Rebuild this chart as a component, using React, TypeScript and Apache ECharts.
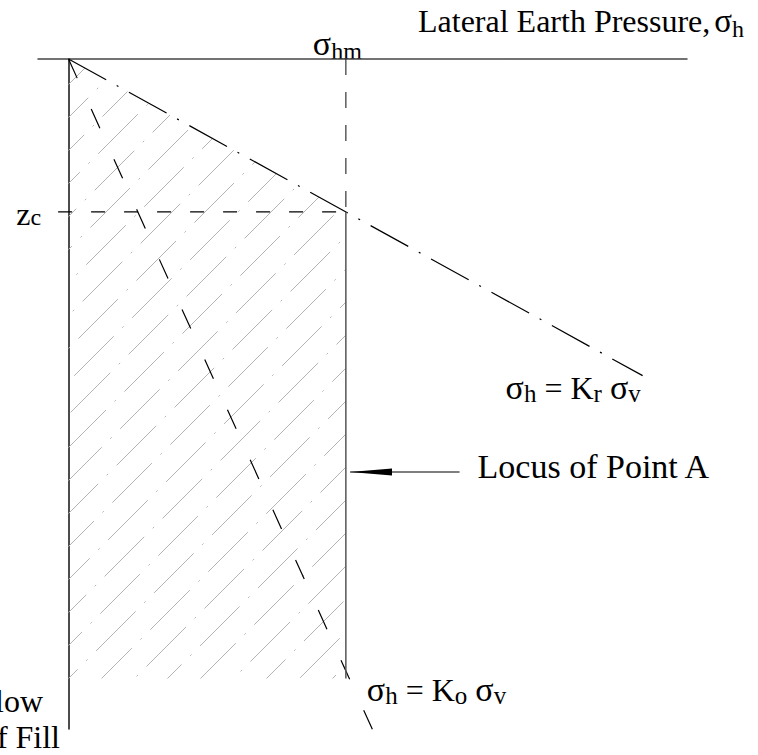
import { useEffect, useRef } from "react";
import * as echarts from "echarts";

const FONT = "'Liberation Serif', 'Times New Roman', serif";

// Lateral pressure σh (x) against depth z (y), in the diagram's own units
const pressureRange = [-11, 223];
const depthRange = [0, 438];
const krLine = [[0, 0], [207, 207]];          // σh = Kr σv
const koLine = [[0, 0], [110.5, 442]];        // σh = Ko σv
const locusUpper = [[100, 0], [100, 100]];    // σhm projected to the surface
const locusLower = [[100, 100], [100, 405]];  // locus of point A below zc
const zcLine = [[-7, 100], [100, 100]];       // critical depth zc
const pressureZone = [[0, 0], [100, 100], [100, 405], [0, 405]];
const arrowLine = [[141, 270], [101.5, 270]];

const HATCH_STEP = 33;
const HATCH_PHASE = 21;
const HATCH_DASH = [56, 12, 2, 12];

function lineSeries(data: number[][], color: string, width: number, type: any, dashOffset = 0, z = 3) {
  return {
    type: "line",
    data,
    symbol: "none",
    silent: true,
    clip: false,
    z,
    lineStyle: { color, width, type, dashOffset },
    emphasis: { disabled: true },
  };
}

export default function App() {
  const ref = useRef<HTMLDivElement>(null);

  useEffect(() => {
    const chart = echarts.init(ref.current!, null, { renderer: "svg" });

    // Diagonal dash-dot hatching of the pressure zone, clipped to its outline
    const hatchSeries = {
      type: "custom",
      coordinateSystem: "cartesian2d",
      data: [pressureZone[0]],
      silent: true,
      clip: false,
      z: 1,
      renderItem: (_params: any, api: any) => {
        const pts = pressureZone.map((p) => api.coord(p));
        const sums = pts.map((p: number[]) => p[0] + p[1]);
        const cMin = Math.min(...sums);
        const cMax = Math.max(...sums);
        const period = HATCH_DASH.reduce((a, b) => a + b, 0);
        const children: any[] = [];
        const k0 = Math.ceil((cMin - HATCH_PHASE) / HATCH_STEP);
        for (let k = k0; HATCH_PHASE + k * HATCH_STEP < cMax; k++) {
          const c = HATCH_PHASE + k * HATCH_STEP;
          const hits: number[][] = [];
          for (let i = 0; i < pts.length; i++) {
            const a = pts[i];
            const b = pts[(i + 1) % pts.length];
            const fa = a[0] + a[1] - c;
            const fb = b[0] + b[1] - c;
            if ((fa <= 0 && fb > 0) || (fa > 0 && fb <= 0)) {
              const t = fa / (fa - fb);
              hits.push([a[0] + t * (b[0] - a[0]), a[1] + t * (b[1] - a[1])]);
            }
          }
          if (hits.length < 2) continue;
          hits.sort((p, q) => p[0] - q[0]);
          const s = hits[0];
          const e = hits[hits.length - 1];
          const along = (s[0] - s[1]) / Math.SQRT2 + k * 29;
          children.push({
            type: "line",
            shape: { x1: s[0], y1: s[1], x2: e[0], y2: e[1] },
            style: {
              stroke: "#b4b4b4",
              lineWidth: 1,
              lineDash: HATCH_DASH,
              lineDashOffset: ((along % period) + period) % period,
            },
            silent: true,
          });
        }
        return { type: "group", children };
      },
    };

    // Filled arrowhead pointing at the locus line
    const arrowHeadSeries = {
      type: "custom",
      coordinateSystem: "cartesian2d",
      data: [arrowLine[1]],
      silent: true,
      clip: false,
      z: 5,
      renderItem: (_params: any, api: any) => {
        const tail = api.coord(arrowLine[0]);
        const tip = api.coord(arrowLine[1]);
        const dx = tip[0] - tail[0];
        const dy = tip[1] - tail[1];
        const len = Math.hypot(dx, dy) || 1;
        const ux = dx / len;
        const uy = dy / len;
        const headLen = 42;
        const half = 3.5;
        const bx = tip[0] - ux * headLen;
        const by = tip[1] - uy * headLen;
        return {
          type: "polygon",
          shape: {
            points: [
              [tip[0], tip[1]],
              [bx - uy * half, by + ux * half],
              [bx + uy * half, by - ux * half],
            ],
          },
          style: { fill: "#000" },
        };
      },
    };

    chart.setOption({
      animation: false,
      grid: { left: 38, right: 71, top: 59, bottom: 26, containLabel: false, outerBoundsMode: "none" },
      xAxis: {
        type: "value",
        position: "top",
        min: pressureRange[0],
        max: pressureRange[1],
        axisLine: { show: true, onZero: true, lineStyle: { color: "#444", width: 1.5 } },
        axisTick: { show: false },
        axisLabel: { show: false },
        splitLine: { show: false },
      },
      yAxis: {
        type: "value",
        inverse: true,
        min: depthRange[0],
        max: depthRange[1],
        axisLine: { show: true, onZero: true, lineStyle: { color: "#111", width: 1.5 } },
        axisTick: { show: false },
        axisLabel: { show: false },
        splitLine: { show: false },
      },
      series: [
        hatchSeries,
        lineSeries(krLine, "#000", 1.2, [43, 12, 2, 12]),
        lineSeries(koLine, "#000", 1.2, [21, 34]),
        lineSeries(locusUpper, "#333", 1.2, [16, 17]),
        lineSeries(locusLower, "#555", 1.5, "solid"),
        lineSeries(zcLine, "#000", 1.2, [14, 19], 24),
        lineSeries(arrowLine, "#555", 1.5, "solid"),
        arrowHeadSeries,
      ],
    });

    const px = (p: number[]) => chart.convertToPixel({ gridIndex: 0 }, p) as number[];
    const rich = {
      m: { fontSize: 32, fontFamily: FONT, fill: "#000" },
      L: { fontSize: 34, fontFamily: FONT, fill: "#000" },
      g: { fontSize: 34, fontFamily: FONT, fill: "#000" },
      G: { fontSize: 33, fontFamily: FONT, fill: "#000", padding: [0, 0, 0, 4] },
      s: { fontSize: 25, fontFamily: FONT, fill: "#000", padding: [12, 0, 0, 0] },
      t: { fontSize: 24, fontFamily: FONT, fill: "#000", padding: [16, 0, 0, 0] },
      c: { fontSize: 24, fontFamily: FONT, fill: "#000", padding: [6, 0, 0, 0] },
    };
    const label = (x: number, y: number, text: string, align = "left") => ({
      type: "text",
      x,
      y,
      silent: true,
      style: {
        text,
        rich,
        fontSize: 32,
        fontFamily: FONT,
        fill: "#000",
        textAlign: align,
        textVerticalAlign: "middle",
      },
    });

    const hm = px(locusUpper[0]);
    const zc = px(zcLine[0]);
    const kr = px(krLine[1]);
    const tail = px(arrowLine[0]);
    const ko = px(locusLower[1]);

    chart.setOption({
      graphic: [
        label(418, 21, "{m|Lateral Earth Pressure,}{G|σ}{t|h}"),
        label(hm[0] - 33, hm[1] - 16, "{g|σ}{t|hm}"),
        label(zc[0] - 8, zc[1] + 2, "{m|z}{c|c}", "right"),
        label(kr[0] - 137, kr[1] + 12, "{g|σ}{s|h}{m| = K}{s|r}{m| }{g|σ}{s|v}"),
        label(tail[0] + 18, tail[1] - 6, "{L|Locus of Point A}"),
        label(ko[0] + 21, ko[1] + 11, "{g|σ}{s|h}{m| = K}{s|o}{m| }{g|σ}{s|v}"),
        label(43, 701, "{m|Depth Below}", "right"),
        label(60, 737, "{m|Top of Fill}", "right"),
      ],
    });

    return () => chart.dispose();
  }, []);

  return (
    <div
      ref={ref}
      style={{ position: "fixed", left: 0, top: 0, width: 758, height: 755, background: "#fff" }}
    />
  );
}
